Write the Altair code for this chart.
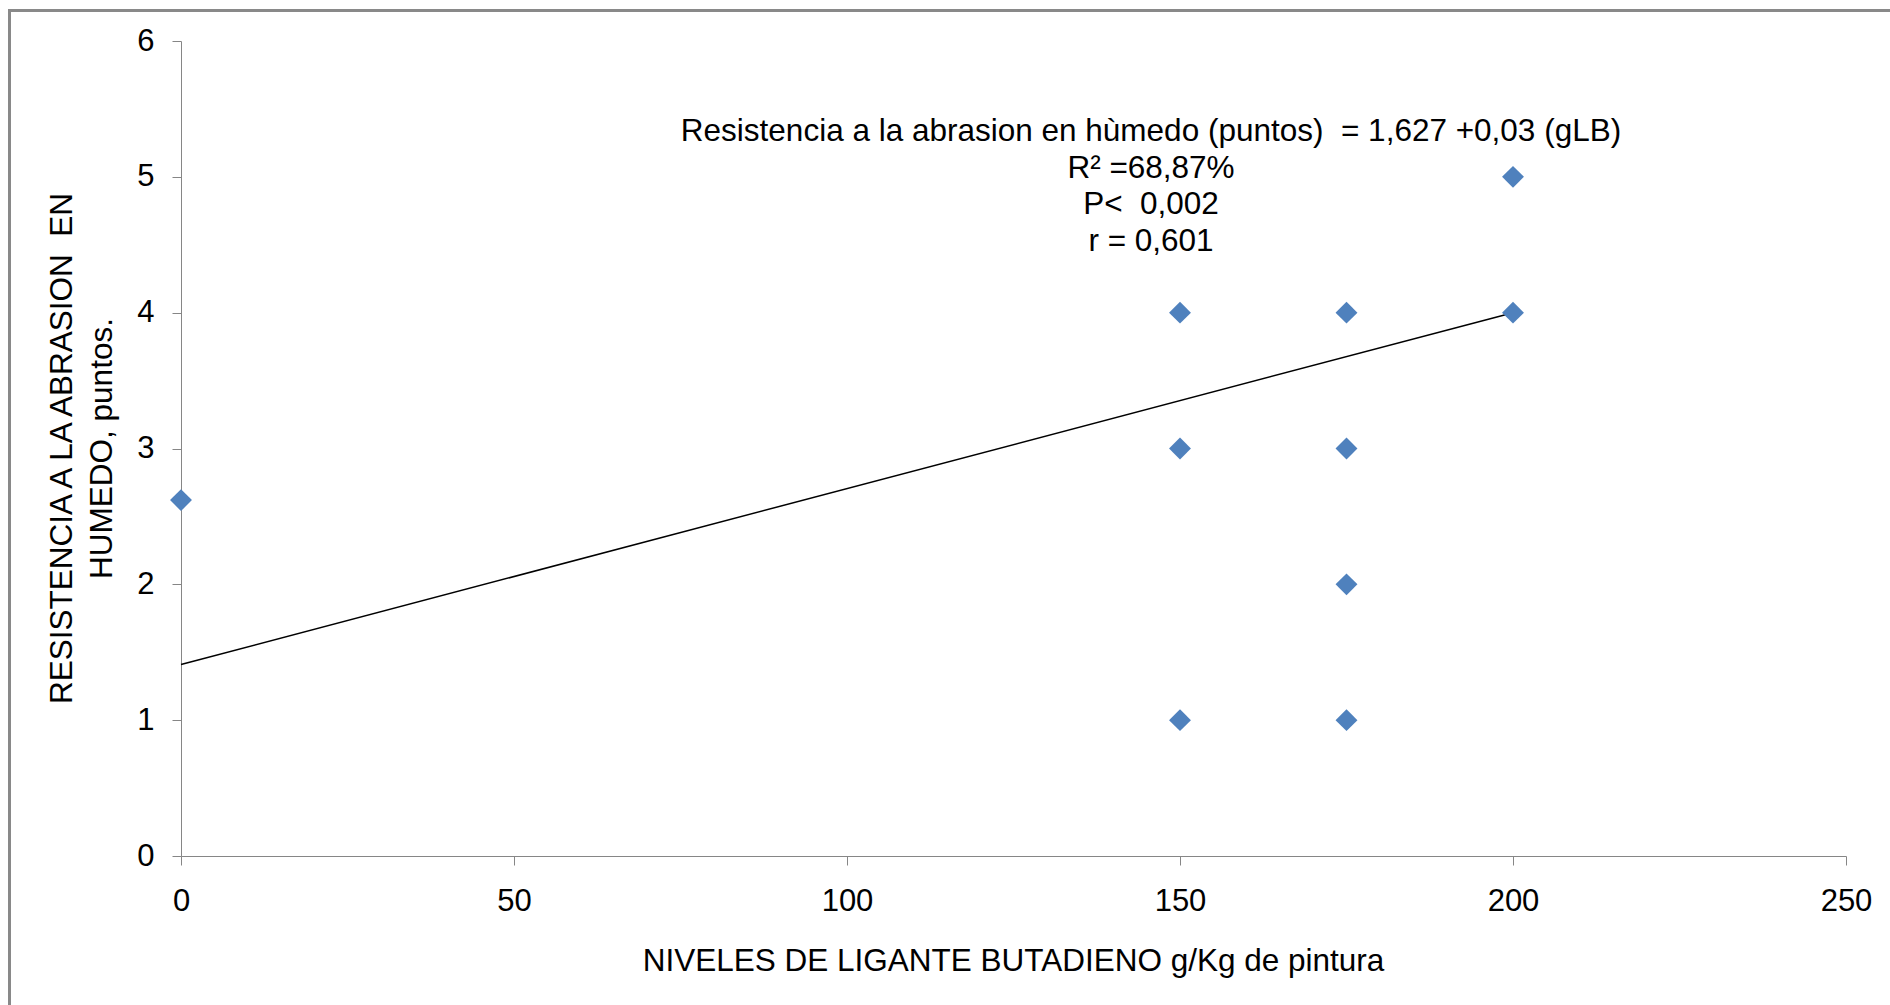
import altair as alt
import pandas as pd

# Data
gLB = [0, 150, 150, 150, 175, 175, 175, 175, 200, 200]
resistencia = [2.62, 4, 3, 1, 4, 3, 2, 1, 5, 4]

trend_x = [0, 200]
trend_y = [1.41, 4.0]

x_ticks = [0, 50, 100, 150, 200, 250]
y_ticks = [0, 1, 2, 3, 4, 5, 6]

NB = "\u00a0"
annotation_lines = [
    "Resistencia a la abrasion en hùmedo (puntos)" + NB + " = 1,627 +0,03 (gLB)",
    "R² =68,87%",
    "P<" + NB + " 0,002",
    "r = 0,601",
]

x_title = "NIVELES DE LIGANTE BUTADIENO g/Kg de pintura"
y_title = ["RESISTENCIA A LA ABRASION" + NB + " EN", "HUMEDO, puntos."]

FONT = "Liberation Sans"
FS = 31
FS_T = 31.5
AXIS_COLOR = "#868686"

pts = pd.DataFrame({"x": gLB, "y": resistencia})
trend = pd.DataFrame({"x": trend_x, "y": trend_y})

x_scale = alt.Scale(domain=[0, 250], nice=False, zero=False)
y_scale = alt.Scale(domain=[0, 6], nice=False, zero=False)

x_axis = alt.Axis(
    values=x_ticks, grid=False, title=x_title, format="d",
    domainColor=AXIS_COLOR, tickColor=AXIS_COLOR, tickSize=9, tickWidth=1, domainWidth=1,
    labelFont=FONT, labelFontSize=FS, labelColor="black", labelPadding=21,
    titleFont=FONT, titleFontSize=FS_T, titleFontWeight="normal", titleColor="black",
    titleX=832, titleY=105, titleAnchor="middle", titleAlign="center", titleBaseline="middle",
    labelFlush=False, labelOverlap=False,
)
y_axis = alt.Axis(
    values=y_ticks, grid=False, title=y_title, format="d",
    domainColor=AXIS_COLOR, tickColor=AXIS_COLOR, tickSize=9, tickWidth=1, domainWidth=1,
    labelFont=FONT, labelFontSize=FS, labelColor="black", labelPadding=18,
    titleFont=FONT, titleFontSize=FS_T, titleFontWeight="normal", titleColor="black",
    titleAngle=270, titleX=-119, titleY=407, titleAlign="center", titleBaseline="middle",
    titleLineHeight=40, labelFlush=False, labelOverlap=False,
)

points = alt.Chart(pts).mark_point(
    shape="diamond", filled=True, size=480, color="#4F81BD", opacity=1
).encode(
    x=alt.X("x:Q", scale=x_scale, axis=x_axis),
    y=alt.Y("y:Q", scale=y_scale, axis=y_axis),
)

line = alt.Chart(trend).mark_line(color="black", strokeWidth=1.5).encode(
    x=alt.X("x:Q", scale=x_scale),
    y=alt.Y("y:Q", scale=y_scale),
)

ann = alt.Chart(pd.DataFrame({"t": [annotation_lines]})).mark_text(
    font=FONT, fontSize=FS_T, color="black", align="center", baseline="alphabetic",
    lineHeight=36.5,
).encode(
    x=alt.value(970), y=alt.value(100), text="t:N"
)

one = pd.DataFrame({"a": [0]})
border_left = alt.Chart(one).mark_rule(color="#898989", strokeWidth=3).encode(
    x=alt.value(-171.5), y=alt.value(-32), y2=alt.value(1000)
)
border_top = alt.Chart(one).mark_rule(color="#898989", strokeWidth=3).encode(
    x=alt.value(-173), x2=alt.value(1750), y=alt.value(-30.5)
)

chart = alt.layer(border_left, border_top, line, points, ann).properties(
    width=1665, height=815,
    autosize=alt.AutoSizeParams(type="none"),
    padding={"left": 181, "top": 41, "right": 44, "bottom": 149},
    background="white",
).configure_view(stroke=None)

chart.save("out.html", embed_options={"renderer": "svg", "actions": False})
